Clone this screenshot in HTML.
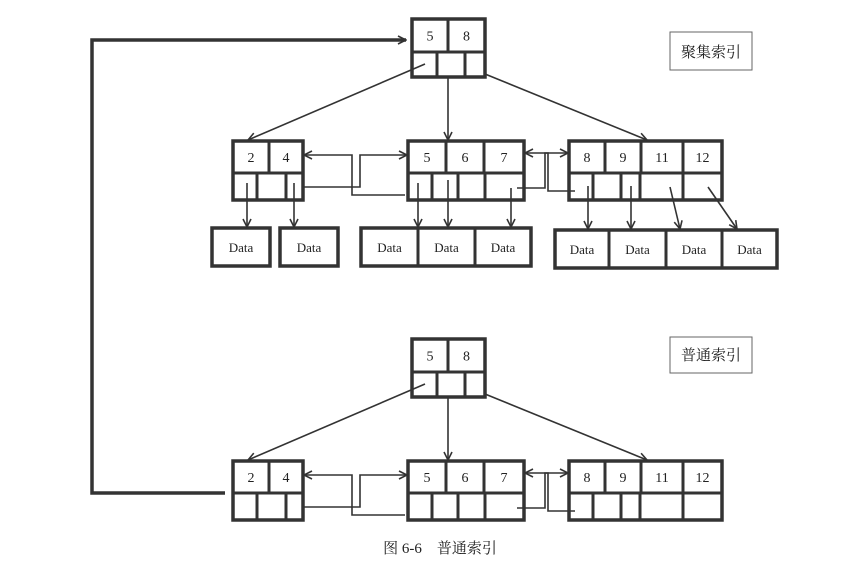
<!DOCTYPE html>
<html><head><meta charset="utf-8"><style>
html,body{margin:0;padding:0;background:#fff;width:841px;height:570px;overflow:hidden}
text{font-family:"Liberation Serif","Noto Serif CJK SC",serif;fill:#222}
</style></head><body>
<svg width="841" height="570" viewBox="0 0 841 570" xmlns="http://www.w3.org/2000/svg">
<defs>
<marker id="ah" markerWidth="10" markerHeight="10" refX="9" refY="5" orient="auto" markerUnits="userSpaceOnUse">
<path d="M1,1 L9,5 L1,9" fill="none" stroke="#333" stroke-width="1.6"/></marker>
<marker id="ahb" markerWidth="14" markerHeight="14" refX="12" refY="7" orient="auto" markerUnits="userSpaceOnUse">
<path d="M0,1 L13,7 L0,13 Z" fill="#333"/></marker>
</defs>
<g id="g" stroke="#333" fill="none"></g>
<rect x="670" y="32" width="82" height="38" fill="none" stroke="#666"/>
<text x="711" y="57" text-anchor="middle" font-size="15">聚集索引</text>
<rect x="670" y="337" width="82" height="36" fill="none" stroke="#666"/>
<text x="711" y="360" text-anchor="middle" font-size="15">普通索引</text>
<text x="440" y="553" text-anchor="middle" font-size="15">图 6-6　普通索引</text>
</svg>
<script>
const NS='http://www.w3.org/2000/svg';
const svg=document.querySelector('svg');
const g=document.getElementById('g');
function el(tag,attrs,parent){const e=document.createElementNS(NS,tag);for(const k in attrs)e.setAttribute(k,attrs[k]);(parent||g).appendChild(e);return e;}
function node(name,x1,y1,x2,ymid,y2,topDiv,botDiv,keys){
  const grp=el('g',{});
  
  
  el('rect',{x:x1,y:y1,width:x2-x1,height:y2-y1,'stroke-width':3.5},grp);
  el('line',{x1:x1,y1:ymid,x2:x2,y2:ymid,'stroke-width':3},grp);
  topDiv.forEach(d=>el('line',{x1:d,y1:y1,x2:d,y2:ymid,'stroke-width':3},grp));
  botDiv.forEach(d=>el('line',{x1:d,y1:ymid,x2:d,y2:y2,'stroke-width':3},grp));
  const xs=[x1,...topDiv,x2];
  keys.forEach((k,i)=>{const t=el('text',{x:(xs[i]+xs[i+1])/2,y:(y1+ymid)/2+5,'text-anchor':'middle','font-size':14,stroke:'none'},svg);t.textContent=k;});
}
function data(name,x1,y1,x2,y2,divs){
  const grp=el('g',{});
  
  
  el('rect',{x:x1,y:y1,width:x2-x1,height:y2-y1,'stroke-width':3.5},grp);
  divs.forEach(d=>el('line',{x1:d,y1:y1,x2:d,y2:y2,'stroke-width':3},grp));
  const xs=[x1,...divs,x2];
  for(let i=0;i<xs.length-1;i++){const t=el('text',{x:(xs[i]+xs[i+1])/2,y:(y1+y2)/2+5,'text-anchor':'middle','font-size':13,stroke:'none'},svg);t.textContent='Data';}
}
function arrow(pts,w){el('polyline',{points:pts,'stroke-width':w||1.6,'marker-end':'url(#ah)'});}
function line(pts,w){el('polyline',{points:pts,'stroke-width':w||1.6});}
[0,320].forEach((dy,idx)=>{
  const pre=idx?'secondary-':'clustered-';
  node(pre+'root-node',412,19+dy,485,52+dy,77+dy,[448],[437,465],['5','8']);
  node(pre+'leaf-left',233,141+dy,303,173+dy,200+dy,[269],[257,286],['2','4']);
  node(pre+'leaf-middle',408,141+dy,524,173+dy,200+dy,[446,484],[432,458,485],['5','6','7']);
  node(pre+'leaf-right',569,141+dy,722,173+dy,200+dy,[605,641,683],[593,621,640,683],['8','9','11','12']);
  arrow(`425,${64+dy} 248,${140+dy}`);
  arrow(`448,${78+dy} 448,${140+dy}`);
  arrow(`485,${74+dy} 647,${140+dy}`);
  arrow(`303,${187+dy} 360,${187+dy} 360,${155+dy} 407,${155+dy}`);
  arrow(`405,${195+dy} 352,${195+dy} 352,${155+dy} 304,${155+dy}`);
  arrow(`517,${188+dy} 545,${188+dy} 545,${153+dy} 568,${153+dy}`);
  arrow(`575,${191+dy} 548,${191+dy} 548,${153+dy} 525,${153+dy}`);
});
data('data-left-1',212,228,270,266,[]);
data('data-left-2',280,228,338,266,[]);
data('data-middle',361,228,531,266,[418,475]);
data('data-right',555,230,777,268,[609,666,722]);
[[247,183,247,227],[294,183,294,227],[418,183,418,227],[448,180,448,227],[511,188,511,227],[588,186,588,229],[631,186,631,229],[670,187,680,229],[708,187,737,229]].forEach(a=>arrow(a.join(',')));
arrow('225,493 92,493 92,40 406,40',3.5);
</script>
</body></html>
